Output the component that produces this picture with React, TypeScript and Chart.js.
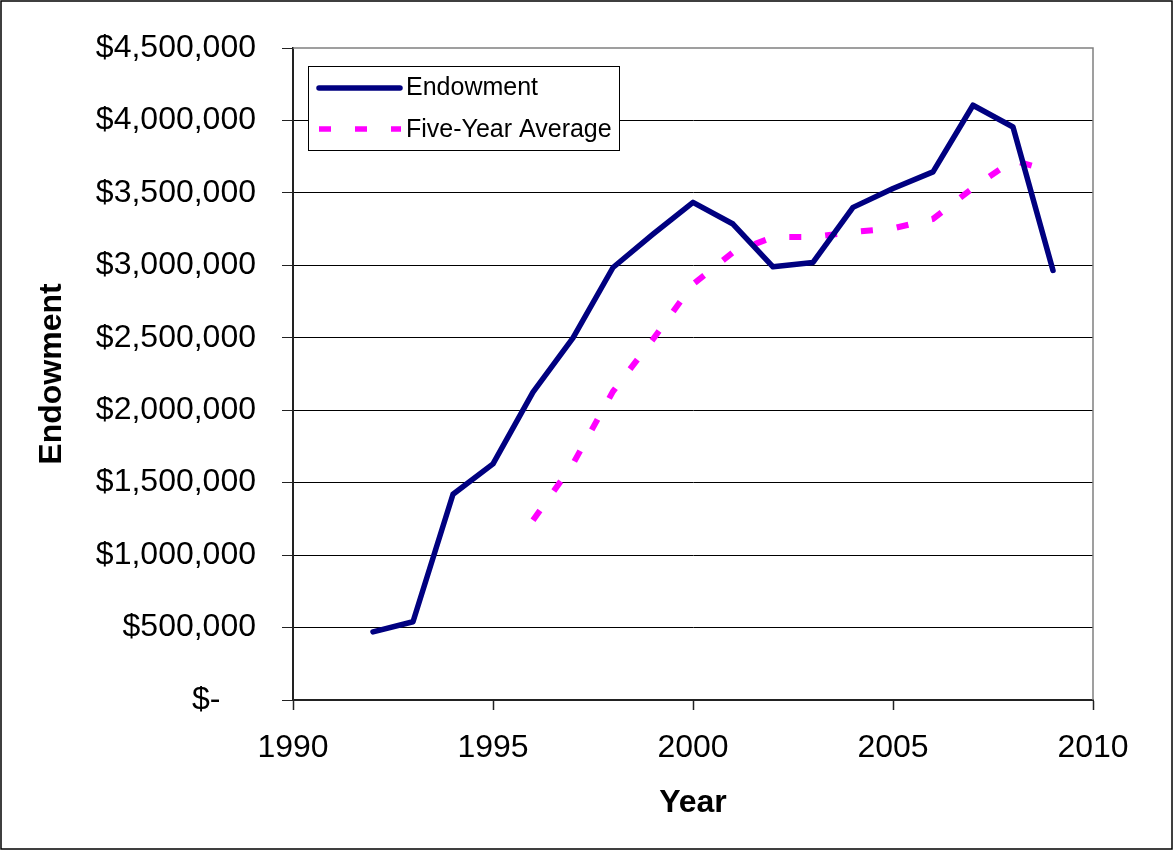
import React, { useEffect, useRef } from "react";
import { Chart, registerables } from "chart.js";

Chart.register(...registerables);

const years = [1992, 1993, 1994, 1995, 1996, 1997, 1998, 1999, 2000, 2001, 2002, 2003, 2004, 2005, 2006, 2007, 2008, 2009];
const endowment = [470000, 540000, 1420000, 1630000, 2125000, 2500000, 2985000, 3215000, 3435000, 3285000, 2990000, 3020000, 3400000, 3530000, 3645000, 4105000, 3955000, 2965000];
const avgYears = [1996, 1997, 1998, 1999, 2000, 2001, 2002, 2003, 2004, 2005, 2006, 2007, 2008, 2009];
const fiveYearAvg = [1240000, 1630000, 2130000, 2490000, 2870000, 3090000, 3195000, 3195000, 3230000, 3255000, 3320000, 3535000, 3725000, 3645000];
const xTicks = [1990, 1995, 2000, 2005, 2010];
const yMax = 4500000;
const yStep = 500000;
const seriesNames = ["Endowment", "Five-Year Average"];

const NAVY = "#000080";
const MAGENTA = "#FF00FF";
const FONT = "'Liberation Sans', Arial, sans-serif";

const fmtMoney = (v: number) => (v === 0 ? "$-    " : "$" + v.toLocaleString("en-US"));

const framePlugin = {
  id: "frame",
  afterDraw(chart: any) {
    const { ctx, chartArea } = chart;
    const { left, right, top, bottom } = chartArea;
    ctx.save();
    // plot area top/right border (gray)
    ctx.strokeStyle = "#808080";
    ctx.lineWidth = 1.5;
    ctx.beginPath();
    ctx.moveTo(left, top);
    ctx.lineTo(right, top);
    ctx.lineTo(right, bottom);
    ctx.stroke();

    // legend
    const lx = 308.5, ly = 66.5, lw = 311, lh = 84;
    ctx.fillStyle = "#fff";
    ctx.fillRect(lx, ly, lw, lh);
    ctx.strokeStyle = "#000";
    ctx.lineWidth = 1;
    ctx.strokeRect(lx, ly, lw, lh);

    ctx.lineWidth = 5.5;
    ctx.strokeStyle = NAVY;
    ctx.lineCap = "round";
    ctx.beginPath();
    ctx.moveTo(319, 88);
    ctx.lineTo(400, 88);
    ctx.stroke();

    ctx.lineCap = "butt";
    ctx.strokeStyle = MAGENTA;
    ctx.lineWidth = 5.5;
    ctx.setLineDash([12, 24]);
    ctx.beginPath();
    ctx.moveTo(319, 129);
    ctx.lineTo(401, 129);
    ctx.stroke();
    ctx.setLineDash([]);

    ctx.fillStyle = "#000";
    ctx.font = `25px ${FONT}`;
    ctx.textBaseline = "middle";
    ctx.textAlign = "left";
    ctx.fillText(seriesNames[0], 406, 88);
    ctx.fillText(seriesNames[1], 406, 130);

    // outer border
    ctx.strokeStyle = "#000";
    ctx.lineWidth = 1.5;
    ctx.strokeRect(1, 1, 1171, 848);
    ctx.restore();
  },
};

export default function App() {
  const ref = useRef<HTMLCanvasElement | null>(null);

  useEffect(() => {
    if (!ref.current) return;
    const chart = new Chart(ref.current, {
      type: "line",
      data: {
        datasets: [
          {
            label: seriesNames[0],
            data: years.map((y, i) => ({ x: y, y: endowment[i] })),
            borderColor: NAVY,
            borderWidth: 5.5,
            borderCapStyle: "round",
            borderJoinStyle: "round",
            pointRadius: 0,
            tension: 0,
            fill: false,
          },
          {
            label: seriesNames[1],
            data: avgYears.map((y, i) => ({ x: y, y: fiveYearAvg[i] })),
            borderColor: MAGENTA,
            borderWidth: 6,
            borderDash: [12, 24],
            borderCapStyle: "butt",
            borderJoinStyle: "miter",
            pointRadius: 0,
            tension: 0,
            fill: false,
          },
        ],
      },
      options: {
        responsive: false,
        animation: false,
        devicePixelRatio: 1,
        layout: { padding: { left: 29, right: 80, top: 48, bottom: 24 } },
        plugins: { legend: { display: false }, tooltip: { enabled: false } },
        scales: {
          x: {
            type: "linear",
            min: 1990,
            max: 2010,
            afterBuildTicks: (s: any) => {
              s.ticks = xTicks.map((v) => ({ value: v }));
            },
            afterFit: (s: any) => {
              s.height = 126;
            },
            grid: { drawOnChartArea: false, drawTicks: true, tickLength: 10, color: "#000", tickColor: "#222", tickWidth: 1.5 },
            border: { color: "#222", width: 2 },
            ticks: {
              color: "#000",
              font: { family: FONT, size: 32 },
              padding: 19,
              maxRotation: 0,
              callback: (v: any) => String(v),
            },
            title: {
              display: true,
              text: "Year",
              color: "#000",
              font: { family: FONT, size: 32, weight: "bold" },
            },
          },
          y: {
            min: 0,
            max: yMax,
            afterFit: (s: any) => {
              s.width = 264;
            },
            grid: {
              color: (c: any) => (c.tick && c.tick.value === yMax ? "rgba(0,0,0,0)" : "#000"),
              tickColor: "#222",
              lineWidth: 1,
              tickLength: 11,
            },
            border: { color: "#222", width: 2 },
            ticks: {
              stepSize: yStep,
              color: "#000",
              font: { family: FONT, size: 32 },
              padding: 26,
              callback: (v: any) => fmtMoney(Number(v)),
            },
            title: {
              display: true,
              text: "Endowment",
              color: "#000",
              font: { family: FONT, size: 32, weight: "bold" },
            },
          },
        },
      },
      plugins: [framePlugin],
    } as any);
    return () => chart.destroy();
  }, []);

  return (
    <div style={{ position: "absolute", left: 0, top: 0, width: 1173, height: 850, background: "#fff" }}>
      <canvas ref={ref} width={1173} height={850} style={{ display: "block", width: 1173, height: 850 }} />
    </div>
  );
}
